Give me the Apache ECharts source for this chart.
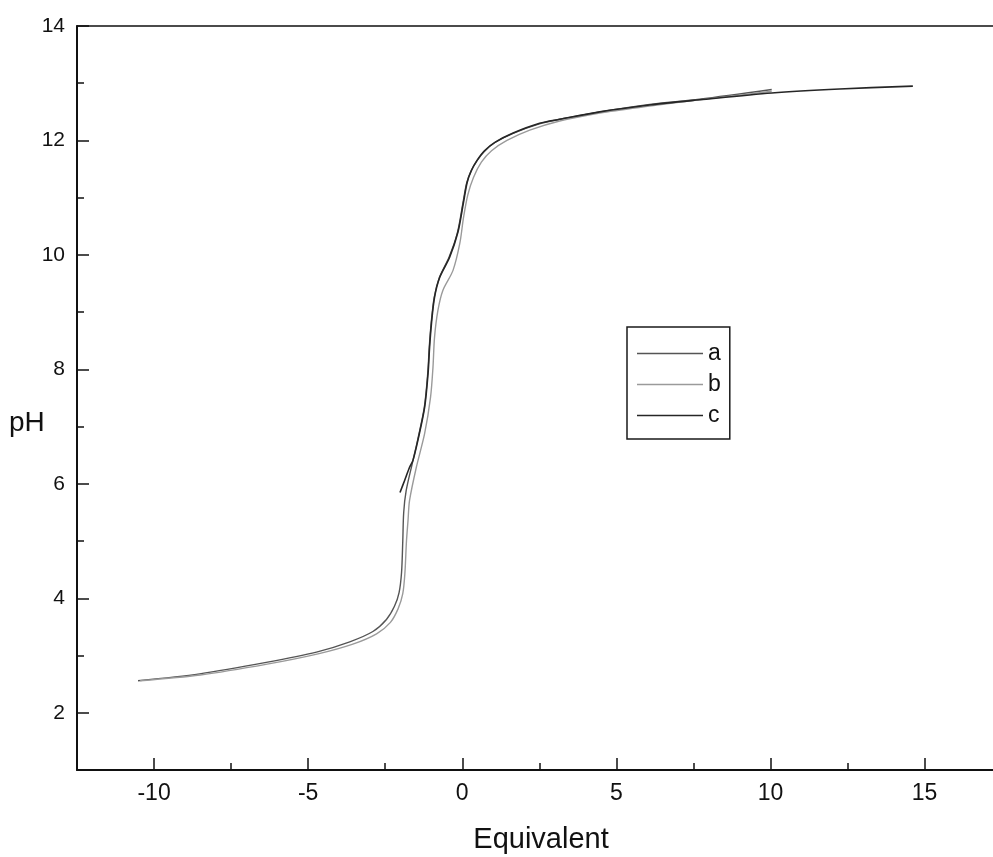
<!DOCTYPE html>
<html>
<head>
<meta charset="utf-8">
<script src="https://cdn.jsdelivr.net/npm/echarts@6/dist/echarts.min.js"></script>
<style>
html,body{margin:0;padding:0;background:#fff;}
#chart{width:993px;height:857px;}
</style>
</head>
<body>
<div id="chart"></div>
<script>
// ---- data ----
const seriesNames = ['a', 'b', 'c'];
const xMajorTicks = [-10, -5, 0, 5, 10, 15];
const xMinorTicks = [-7.5, -2.5, 2.5, 7.5, 12.5];
const yMajorTicks = [2, 4, 6, 8, 10, 12, 14];
const yMinorTicks = [3, 5, 7, 9, 11, 13];

const dataA = [
  [-10.52, 2.56], [-8.52, 2.68], [-6.36, 2.88], [-4.73, 3.06], [-3.65, 3.24],
  [-2.90, 3.42], [-2.46, 3.63], [-2.20, 3.86], [-2.05, 4.10], [-1.97, 4.45],
  [-1.93, 5.00], [-1.90, 5.50], [-1.82, 5.88], [-1.62, 6.36], [-1.45, 6.76],
  [-1.23, 7.34], [-1.12, 7.93], [-1.07, 8.39], [-1.01, 8.80], [-0.91, 9.26],
  [-0.74, 9.61], [-0.43, 9.96], [-0.16, 10.38], [0.02, 10.90], [0.14, 11.25],
  [0.28, 11.46], [0.47, 11.64], [0.70, 11.80], [1.05, 11.96], [1.63, 12.12],
  [2.50, 12.29], [3.16, 12.37], [4.46, 12.50], [6.08, 12.63], [7.70, 12.72],
  [10.04, 12.89]
];
const dataB = [
  [-10.45, 2.56], [-8.50, 2.66], [-6.33, 2.85], [-4.68, 3.03], [-3.55, 3.20],
  [-2.78, 3.38], [-2.33, 3.58], [-2.08, 3.82], [-1.93, 4.08], [-1.86, 4.45],
  [-1.81, 5.00], [-1.76, 5.36], [-1.71, 5.71], [-1.49, 6.29], [-1.22, 6.88],
  [-1.03, 7.51], [-0.95, 8.04], [-0.90, 8.56], [-0.79, 9.03], [-0.63, 9.38],
  [-0.30, 9.73], [-0.08, 10.20], [0.04, 10.65], [0.18, 11.05], [0.36, 11.35],
  [0.62, 11.62], [0.95, 11.82], [1.45, 12.00], [2.19, 12.18], [3.16, 12.34],
  [4.46, 12.48], [6.08, 12.60], [7.70, 12.71], [10.04, 12.86]
];
const dataC = [
  [-2.02, 5.85], [-1.87, 6.06], [-1.71, 6.29], [-1.60, 6.41], [-1.44, 6.76],
  [-1.22, 7.34], [-1.11, 7.93], [-1.06, 8.39], [-1.00, 8.80], [-0.90, 9.26],
  [-0.73, 9.61], [-0.41, 9.96], [-0.14, 10.40], [0.04, 10.92], [0.16, 11.27],
  [0.30, 11.48], [0.49, 11.66], [0.72, 11.82], [1.07, 11.97], [1.65, 12.13],
  [2.51, 12.30], [3.16, 12.37], [4.46, 12.50], [6.08, 12.62], [7.70, 12.71],
  [10.04, 12.83], [12.24, 12.90], [14.62, 12.95]
];

const seriesData = [dataA, dataB, dataC];
const seriesColors = ['#555555', '#9a9a9a', '#262626'];
const seriesWidths = [1.4, 1.4, 1.6];

const chart = echarts.init(document.getElementById('chart'), null, {renderer: 'canvas'});
const sans = '"Liberation Sans", Arial, sans-serif';
const ink = '#111111';

const xCommon = {
  type: 'value', min: -12.5, max: 17.22, gridIndex: 0,
  splitLine: {show: false}
};
const yCommon = {
  type: 'value', min: 1, max: 14, gridIndex: 0,
  splitLine: {show: false}
};

chart.setOption({
  backgroundColor: '#ffffff',
  animation: false,
  grid: {
    left: 77, top: 26, right: 0, bottom: 87,
    show: false,
    containLabel: false,
    outerBoundsMode: 'none'
  },
  legend: {
    data: seriesNames,
    orient: 'vertical',
    left: 627, top: 327,
    icon: 'rect',
    itemWidth: 66, itemHeight: 1.5,
    itemGap: 8,
    padding: [15, 9, 12, 10],
    borderColor: '#1a1a1a', borderWidth: 1.5,
    textStyle: {fontFamily: sans, fontSize: 23, color: ink, lineHeight: 22}
  },
  xAxis: [
    Object.assign({}, xCommon, {
      position: 'bottom',
      name: 'Equivalent', nameLocation: 'middle', nameGap: 49,
      nameTextStyle: {fontFamily: sans, fontSize: 29, color: ink, padding: [6, 0, 0, 12]},
      axisLine: {show: true, onZero: false, lineStyle: {color: ink, width: 2}},
      axisTick: {show: true, inside: true, length: 12, customValues: xMajorTicks, lineStyle: {color: ink, width: 1.5}},
      axisLabel: {show: true, customValues: xMajorTicks, margin: 12, fontFamily: sans, fontSize: 23, color: ink}
    }),
    Object.assign({}, xCommon, {
      position: 'bottom',
      axisLine: {show: false, onZero: false},
      axisTick: {show: true, inside: true, length: 7, customValues: xMinorTicks, lineStyle: {color: ink, width: 1.5}},
      axisLabel: {show: false}
    }),
    Object.assign({}, xCommon, {
      position: 'top',
      axisLine: {show: true, onZero: false, lineStyle: {color: ink, width: 1.5}},
      axisTick: {show: false},
      axisLabel: {show: false}
    })
  ],
  yAxis: [
    Object.assign({}, yCommon, {
      position: 'left',
      axisLine: {show: true, onZero: false, lineStyle: {color: ink, width: 2}},
      axisTick: {show: true, inside: true, length: 12, customValues: yMajorTicks, lineStyle: {color: ink, width: 1.5}},
      axisLabel: {show: true, customValues: yMajorTicks, margin: 12, fontFamily: sans, fontSize: 21, color: ink}
    }),
    Object.assign({}, yCommon, {
      position: 'left',
      axisLine: {show: false, onZero: false},
      axisTick: {show: true, inside: true, length: 7, customValues: yMinorTicks, lineStyle: {color: ink, width: 1.5}},
      axisLabel: {show: false}
    })
  ],
  graphic: [{
    type: 'text', left: 9, top: 409,
    style: {text: 'pH', font: '28px "Liberation Sans", Arial, sans-serif', fill: ink}
  }],
  series: seriesNames.map((n, i) => ({
    name: n, type: 'line', xAxisIndex: 0, yAxisIndex: 0,
    data: seriesData[i], showSymbol: false, smooth: 0.3,
    color: seriesColors[i],
    lineStyle: {color: seriesColors[i], width: seriesWidths[i]},
    z: i === 2 ? 3 : 2
  }))
});
</script>
</body>
</html>
